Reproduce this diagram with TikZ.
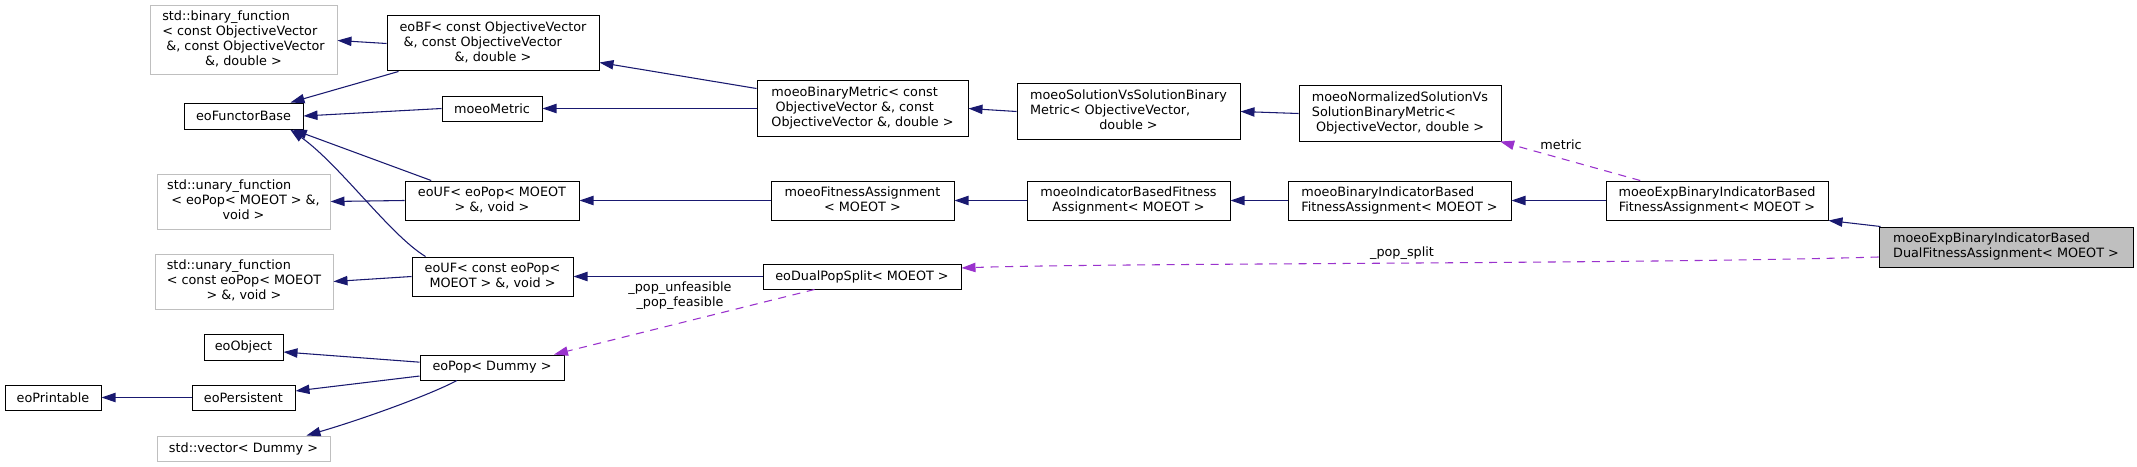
\documentclass[tikz,border=0pt]{standalone}
\usepackage{fontspec}
\setmainfont{DejaVu Sans}
\usetikzlibrary{arrows.meta}
\definecolor{dxblue}{HTML}{191970}
\definecolor{dxpurple}{HTML}{9A32CD}
\definecolor{dxgray}{HTML}{BFBFBF}
\newcommand{\dxfont}{\fontsize{9.6pt}{11.25pt}\selectfont}
\newcommand{\dxtab}[2]{\begin{tabular}{@{}l@{}}#1\\\multicolumn{1}{@{}c@{}}{#2}\end{tabular}}
\begin{document}
\begin{tikzpicture}[x=0.75pt,y=-0.75pt,
  cls/.style n args={2}{draw=black, line width=0.75pt, fill=white, inner sep=0pt,
    minimum width=#1*0.75pt, minimum height=#2*0.75pt, font=\dxfont},
  ext/.style={draw=dxgray},
  inh/.style={draw=dxblue, line width=0.8pt, -{Triangle[length=10.5pt,width=7pt]}},
  use/.style={draw=dxpurple, line width=0.8pt, dash pattern=on 6pt off 5pt,
    -{Triangle[length=10.5pt,width=7pt]}},
  lbl/.style={font=\dxfont, inner sep=0pt, align=center}]
\useasboundingbox[fill=white] (0,0) rectangle (2137,467);

% nodes
\node[cls={187}{69}, ext] (binfun) at (243.5,40.5)
  {\dxtab{std::binary\_function\\< const ObjectiveVector\\\ \&, const ObjectiveVector}{\&, double >}};
\node[cls={212}{55}] (eoBF) at (493,43.5)
  {\dxtab{eoBF< const ObjectiveVector\\\ \&, const ObjectiveVector}{\&, double >}};
\node[cls={119}{26}] (eoFB) at (243.5,116) {eoFunctorBase};
\node[cls={100}{25}] (metric) at (492,108.5) {moeoMetric};
\node[cls={173}{55}, ext] (unfun1) at (243.5,201.5)
  {\dxtab{std::unary\_function\\\ < eoPop< MOEOT > \&,}{void >}};
\node[cls={174}{39}] (eoUF1) at (492,200.5)
  {\dxtab{eoUF< eoPop< MOEOT}{> \&, void >}};
\node[cls={178}{55}, ext] (unfun2) at (244,281.5)
  {\dxtab{std::unary\_function\\< const eoPop< MOEOT}{> \&, void >}};
\node[cls={161}{39}] (eoUF2) at (492.5,276.5)
  {\dxtab{eoUF< const eoPop<}{MOEOT > \&, void >}};
\node[cls={79}{26}] (eoObject) at (243.5,347) {eoObject};
\node[cls={144}{25}] (eoPop) at (492,367.5) {eoPop< Dummy >};
\node[cls={96}{25}] (eoPrint) at (53,397.5) {eoPrintable};
\node[cls={103}{25}] (eoPers) at (243.5,397.5) {eoPersistent};
\node[cls={173}{25}, ext] (stdvec) at (243.5,448.5) {std::vector< Dummy >};

\node[cls={211}{55}] (binmetric) at (862.5,108.5)
  {\dxtab{moeoBinaryMetric< const\\\ ObjectiveVector \&, const}{ObjectiveVector \&, double >}};
\node[cls={223}{55}] (solvs) at (1128.5,111.5)
  {\dxtab{moeoSolutionVsSolutionBinary\\Metric< ObjectiveVector,}{double >}};
\node[cls={202}{55}] (norm) at (1400,113.5)
  {\dxtab{moeoNormalizedSolutionVs\\SolutionBinaryMetric<}{ObjectiveVector, double >}};
\node[cls={183}{39}] (fa) at (862.5,200.5)
  {\dxtab{moeoFitnessAssignment}{< MOEOT >}};
\node[cls={203}{39}] (ibfa) at (1128.5,200.5)
  {\dxtab{moeoIndicatorBasedFitness}{Assignment< MOEOT >}};
\node[cls={223}{39}] (bibfa) at (1399.5,200.5)
  {\dxtab{moeoBinaryIndicatorBased}{FitnessAssignment< MOEOT >}};
\node[cls={222}{39}] (exp) at (1717,200.5)
  {\dxtab{moeoExpBinaryIndicatorBased}{FitnessAssignment< MOEOT >}};
\node[cls={254}{40}, fill=dxgray] (dual) at (2006,247)
  {\dxtab{moeoExpBinaryIndicatorBased}{DualFitnessAssignment< MOEOT >}};
\node[cls={198}{25}] (split) at (862,276.5) {eoDualPopSplit< MOEOT >};

% inheritance
\draw[inh] (eoBF.west) -- (binfun.east);
\draw[inh] ([xshift=9pt]eoBF.south west) -- ([xshift=-9.75pt]eoFB.north east);
\draw[inh] (metric.west) -- (eoFB.east);
\draw[inh] ([xshift=20pt]eoUF1.north west) -- ([xshift=-8pt]eoFB.south east);
\draw[inh] ([xshift=10.5pt]eoUF2.north west) .. controls (390,235) and (340,165) .. ([xshift=-10pt]eoFB.south east);
\draw[inh] (eoUF1.west) -- (unfun1.east);
\draw[inh] (eoUF2.west) -- (unfun2.east);
\draw[inh] ([yshift=4pt]eoPop.west) -- ([yshift=-3.75pt]eoObject.east);
\draw[inh] ([yshift=-6.4pt]eoPop.west) -- ([yshift=4.9pt]eoPers.east);
\draw[inh] (eoPers.west) -- (eoPrint.east);
\draw[inh] ([xshift=28pt]eoPop.south west) .. controls (430,395) and (360,420) .. ([xshift=-18pt]stdvec.north east);
\draw[inh] ([yshift=-6pt]binmetric.north west) -- ([yshift=6.75pt]eoBF.south east);
\draw[inh] (binmetric.west) -- (metric.east);
\draw[inh] (solvs.west) -- (binmetric.east);
\draw[inh] (norm.west) -- (solvs.east);
\draw[inh] (fa.west) -- (eoUF1.east);
\draw[inh] (ibfa.west) -- (fa.east);
\draw[inh] (bibfa.west) -- (ibfa.east);
\draw[inh] (exp.west) -- (bibfa.east);
\draw[inh] ([xshift=1.5pt]dual.north west) -- (exp.south east);
\draw[inh] (split.west) -- (eoUF2.east);

% usage
\draw[use] ([xshift=26pt]exp.north west) -- ([xshift=-1pt]norm.south east);
\draw[use] ([yshift=-7.5pt]dual.west) .. controls (1650,264) and (1100,263) .. ([yshift=6.4pt]split.east);
\draw[use] ([xshift=39pt]split.south west) -- ([xshift=-7.9pt]eoPop.north east);

% labels
\node[lbl] (lmetric) at (1561,145) {metric};
\node[lbl] (lsplit) at (1402,253) {\_pop\_split};
\node[lbl] (lfeas) at (680,296) {\_pop\_unfeasible\\\_pop\_feasible};
\end{tikzpicture}
\end{document}
